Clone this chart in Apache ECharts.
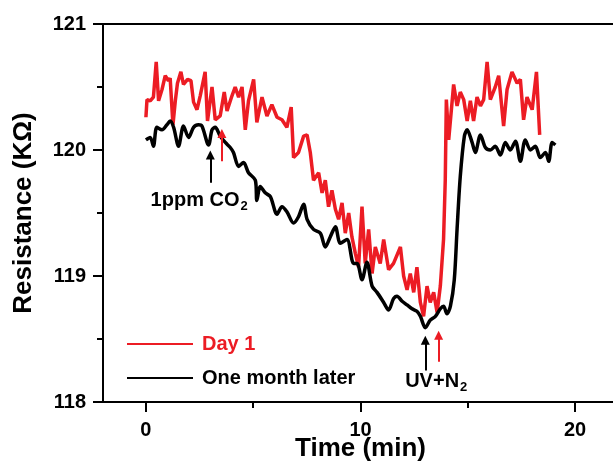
<!DOCTYPE html>
<html>
<head>
<meta charset="utf-8">
<title>Resistance vs time</title>
<style>
  html, body { margin: 0; padding: 0; background: #fff; }
  #main { width: 613px; height: 464px; }
</style>
</head>
<body>
<div id="main"></div>
<script src="https://cdn.jsdelivr.net/npm/echarts@6/dist/echarts.min.js"></script>
<script>
// Day 1 (red)
var redT = [0.0, 0.05, 0.20, 0.35, 0.48, 0.59, 0.75, 0.90, 1.05, 1.13, 1.26, 1.37, 1.47, 1.63, 1.75, 1.94,
  2.10, 2.22, 2.38, 2.53, 2.76, 2.87, 3.08, 3.23, 3.46, 3.65, 3.78, 4.01, 4.16, 4.32, 4.48, 4.63,
  4.78, 5.02, 5.17, 5.41, 5.64, 5.87, 6.11, 6.34, 6.57, 6.77, 6.88, 7.11, 7.35, 7.51, 7.66, 7.81,
  8.05, 8.21, 8.36, 8.51, 8.67, 8.83, 8.98, 9.14, 9.29, 9.45, 9.60, 9.76, 9.91, 10.07, 10.22, 10.38,
  10.54, 10.69, 10.92, 11.08, 11.31, 11.54, 11.86, 12.01, 12.17, 12.32, 12.48, 12.63, 12.79, 12.94,
  13.10, 13.25, 13.41, 13.57, 13.72, 13.87, 13.95, 14.00, 14.11, 14.34, 14.50, 14.65, 14.81, 14.97,
  15.12, 15.27, 15.43, 15.59, 15.74, 15.90, 16.05, 16.28, 16.44, 16.67, 16.83, 17.06, 17.30, 17.45,
  17.60, 17.76, 18.00, 18.20, 18.35];
var redV = [120.26, 120.40, 120.39, 120.42, 120.70, 120.39, 120.48, 120.59, 120.55, 120.57, 120.20, 120.39, 120.53, 120.62, 120.52, 120.56,
  120.55, 120.38, 120.32, 120.43, 120.62, 120.23, 120.50, 120.24, 120.27, 120.46, 120.31, 120.43, 120.50, 120.42, 120.50, 120.16,
  120.39, 120.56, 120.22, 120.42, 120.27, 120.36, 120.26, 120.24, 120.18, 120.34, 119.94, 119.98, 120.11, 120.12, 119.98, 119.76,
  119.82, 119.66, 119.76, 119.55, 119.68, 119.53, 119.45, 119.58, 119.34, 119.50, 119.31, 119.18, 119.07, 119.55, 119.10, 119.37,
  119.02, 119.23, 119.10, 119.29, 119.05, 119.10, 119.23, 119.00, 118.89, 119.02, 118.87, 119.07, 118.79, 118.68,
  118.92, 118.79, 118.87, 118.71, 118.92, 119.29, 119.76, 120.40, 120.08, 120.52, 120.35, 120.46, 120.40, 120.23,
  120.39, 120.23, 120.42, 120.35, 120.40, 120.70, 120.40, 120.50, 120.59, 120.19, 120.48, 120.62, 120.53, 120.56,
  120.24, 120.42, 120.32, 120.62, 120.12];

// One month later (black)
var blackT = [0.0, 0.20, 0.35, 0.51, 0.75, 0.98, 1.13, 1.29, 1.52, 1.75, 1.99, 2.22, 2.45, 2.61, 2.92, 3.08,
  3.23, 3.46, 3.70, 3.93, 4.08, 4.32, 4.55, 4.78, 5.10, 5.17, 5.33, 5.56, 5.80, 6.11, 6.34, 6.57,
  6.88, 7.11, 7.35, 7.51, 7.81, 8.13, 8.36, 8.59, 8.83, 9.06, 9.37, 9.68, 9.84, 10.07, 10.30, 10.54,
  10.77, 11.08, 11.31, 11.54, 11.70, 11.94, 12.17, 12.40, 12.63, 12.79, 13.02, 13.25, 13.49, 13.72,
  13.87, 14.03, 14.19, 14.37, 14.50, 14.65, 14.84, 14.97, 15.20, 15.35, 15.59, 15.82, 16.05, 16.28,
  16.52, 16.75, 16.98, 17.22, 17.45, 17.68, 17.92, 18.15, 18.38, 18.62, 18.77, 18.93, 19.08];
var blackV = [120.08, 120.10, 120.03, 120.18, 120.16, 120.20, 120.23, 120.18, 120.03, 120.19, 120.10, 120.18, 120.20, 120.19, 120.04, 120.16,
  120.18, 120.11, 120.06, 120.02, 119.98, 119.87, 119.90, 119.82, 119.76, 119.60, 119.71, 119.66, 119.63, 119.49, 119.55, 119.51,
  119.42, 119.47, 119.57, 119.45, 119.37, 119.34, 119.23, 119.31, 119.39, 119.26, 119.29, 119.10, 119.10, 118.97, 119.11, 118.92,
  118.87, 118.79, 118.73, 118.82, 118.84, 118.80, 118.77, 118.74, 118.72, 118.68, 118.59, 118.65, 118.68, 118.74,
  118.76, 118.70, 118.76, 118.97, 119.37, 119.79, 120.11, 120.16, 120.06, 119.98, 120.12, 120.02, 120.00, 120.03,
  119.96, 120.06, 120.00, 120.07, 119.91, 120.08, 120.00, 120.03, 119.94, 119.98, 119.91, 120.06, 120.04];

var xLabels = [0, 10, 20];
var xMinor = [5, 15];

var RED = '#ec1c24';
var FONT = 'Liberation Sans';

function zip(t, v) {
  var out = [];
  for (var i = 0; i < t.length; i++) out.push([t[i], v[i]]);
  return out;
}

var chart = echarts.init(document.getElementById('main'));

var option = {
  animation: false,
  textStyle: { fontFamily: FONT },
  grid: {
    left: 103, top: 24, right: -5, bottom: 62,
    outerBoundsMode: 'none',
    containLabel: false,
    show: true, borderColor: '#000', borderWidth: 2
  },
  legend: {
    orient: 'vertical',
    left: 122, top: 329,
    icon: 'rect',
    itemWidth: 66, itemHeight: 2,
    itemGap: 14,
    textStyle: { fontSize: 20, fontWeight: 'bold', fontFamily: FONT, lineHeight: 20, padding: [0, 0, 0, 4] },
    data: [
      { name: 'Day 1', textStyle: { color: RED } },
      { name: 'One month later', textStyle: { color: '#000' } }
    ]
  },
  xAxis: [{
    type: 'value', min: -2, max: 22, position: 'bottom',
    name: 'Time (min)', nameLocation: 'middle', nameGap: 34, nameMoveOverlap: false,
    nameTextStyle: { fontSize: 26, fontWeight: 'bold', color: '#000', fontFamily: FONT },
    axisLine: { onZero: false, lineStyle: { color: '#000', width: 2 } },
    axisTick: { length: 10, customValues: xLabels, lineStyle: { color: '#000', width: 2 } },
    axisLabel: { customValues: xLabels, margin: 18, fontSize: 20, fontWeight: 'bold', color: '#000', fontFamily: FONT },
    splitLine: { show: false }
  }, {
    type: 'value', min: -2, max: 22, position: 'bottom',
    axisLine: { show: false, onZero: false },
    axisTick: { length: 6, customValues: xMinor, lineStyle: { color: '#000', width: 2 } },
    axisLabel: { show: false },
    splitLine: { show: false }
  }],
  yAxis: {
    type: 'value', min: 118, max: 121, interval: 1, position: 'left',
    name: 'Resistance (K\u03A9)', nameLocation: 'middle', nameGap: 66, nameMoveOverlap: false,
    nameTextStyle: { fontSize: 26, fontWeight: 'bold', color: '#000', fontFamily: FONT },
    axisLine: { show: true, onZero: false, lineStyle: { color: '#000', width: 2 } },
    axisTick: { show: true, length: 10, lineStyle: { color: '#000', width: 2 } },
    minorTick: { show: true, splitNumber: 2, length: 6, lineStyle: { color: '#000', width: 2 } },
    axisLabel: { margin: 17, fontSize: 20, fontWeight: 'bold', color: '#000', fontFamily: FONT },
    splitLine: { show: false }
  },
  series: [{
    name: 'Day 1',
    type: 'line',
    data: zip(redT, redV),
    showSymbol: false,
    lineStyle: { color: RED, width: 3.5 },
    itemStyle: { color: RED },
    markLine: {
      silent: true, symbol: ['none', 'triangle'], symbolSize: 9,
      label: { show: false },
      lineStyle: { color: RED, width: 2, type: 'solid' },
      data: [
        [{ coord: [3.54, 119.91] }, { coord: [3.54, 120.13] }],
        [{ coord: [13.64, 118.32] }, { coord: [13.64, 118.53] }]
      ]
    }
  }, {
    name: 'One month later',
    type: 'line',
    data: zip(blackT, blackV),
    showSymbol: false,
    smooth: 0.3,
    lineStyle: { color: '#000', width: 3.5 },
    itemStyle: { color: '#000' },
    markLine: {
      silent: true, symbol: ['none', 'triangle'], symbolSize: 9,
      label: { show: false },
      lineStyle: { color: '#000', width: 2, type: 'solid' },
      data: [
        [{ coord: [3.0, 119.74] }, { coord: [3.0, 119.96] }],
        [{ coord: [13.02, 118.25] }, { coord: [13.02, 118.49] }]
      ]
    },
    markPoint: {
      silent: true, symbol: 'circle', symbolSize: 0,
      label: {
        show: true, position: 'inside', color: '#000',
        rich: {
          a: { fontSize: 20, fontWeight: 'bold', color: '#000', fontFamily: FONT },
          s: { fontSize: 13, fontWeight: 'bold', color: '#000', fontFamily: FONT, padding: [12, 0, 0, 1] }
        }
      },
      data: [
        { coord: [2.48, 119.60], label: { formatter: '{a|1ppm CO}{s|2}' } },
        { coord: [13.53, 118.16], label: { formatter: '{a|UV+N}{s|2}' } }
      ]
    }
  }]
};

chart.setOption(option);
</script>
</body>
</html>
